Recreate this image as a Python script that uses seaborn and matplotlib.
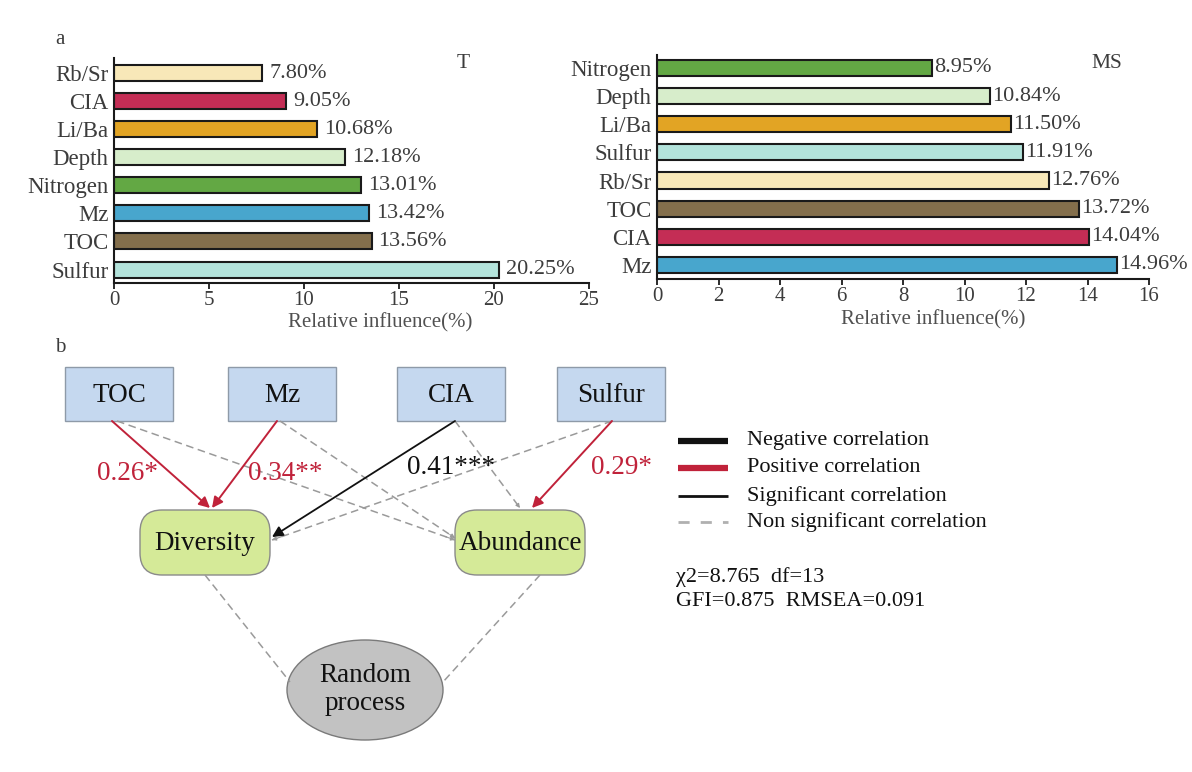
import matplotlib
matplotlib.use("Agg")
import matplotlib.pyplot as plt
import seaborn as sns
import pandas as pd
from matplotlib.patches import FancyBboxPatch, Ellipse, Rectangle
from matplotlib.lines import Line2D

sns.set_style("ticks")
plt.rcParams['font.family'] = ['Liberation Serif', 'DejaVu Serif']

# ---------------- data ----------------
t_factors = ["Rb/Sr", "CIA", "Li/Ba", "Depth", "Nitrogen", "Mz", "TOC", "Sulfur"]
t_values = [7.80, 9.05, 10.68, 12.18, 13.01, 13.42, 13.56, 20.25]
t_ticks = [0, 5, 10, 15, 20, 25]

ms_factors = ["Nitrogen", "Depth", "Li/Ba", "Sulfur", "Rb/Sr", "TOC", "CIA", "Mz"]
ms_values = [8.95, 10.84, 11.50, 11.91, 12.76, 13.72, 14.04, 14.96]
ms_ticks = [0, 2, 4, 6, 8, 10, 12, 14, 16]

factor_colors = {
    "Rb/Sr": "#F8E8B8",
    "CIA": "#C42D55",
    "Li/Ba": "#E2A424",
    "Depth": "#D7EDCB",
    "Nitrogen": "#63A844",
    "Mz": "#48A6CD",
    "TOC": "#846F4C",
    "Sulfur": "#B3E3DB",
}

predictors = ["TOC", "Mz", "CIA", "Sulfur"]
responses = ["Diversity", "Abundance"]
coef_labels = ["0.26*", "0.34**", "0.41***", "0.29*"]
coef_colors = ["#C0223A", "#C0223A", "#111111", "#C0223A"]
legend_labels = ["Negative correlation", "Positive correlation",
                 "Significant correlation", "Non significant correlation"]
fit_lines = ["\u03c72=8.765  df=13", "GFI=0.875  RMSEA=0.091"]

W, H = 1192, 772
TXT = "#3c3c3c"

fig = plt.figure(figsize=(W / 100, H / 100), dpi=100)


def bar_panel(rect, factors, values, ticks, ylim, title, title_xy, label_off,
              xlabel_xy):
    ax = fig.add_axes(rect)
    df = pd.DataFrame({"factor": factors, "value": values})
    sns.barplot(data=df, x="value", y="factor", hue="factor", order=factors,
                hue_order=factors, palette=factor_colors, edgecolor="#1a1a1a",
                linewidth=1.5, width=0.57, legend=False, ax=ax, orient="h",
                saturation=1)
    ax.set_xlim(ticks[0], ticks[-1])
    ax.set_ylim(*ylim)
    ax.set_xticks(ticks)
    ax.set_xticklabels([str(t) for t in ticks])
    ax.set_ylabel("")
    ax.set_xlabel("Relative influence(%)", fontsize=15, color="#505050")
    ax.xaxis.set_label_coords(*xlabel_xy)
    ax.tick_params(axis="x", labelsize=15, colors="#1a1a1a", labelcolor=TXT,
                   length=4, width=1.3, pad=2, direction="out")
    ax.tick_params(axis="y", labelsize=16.5, labelcolor=TXT, length=0, pad=4)
    sns.despine(ax=ax, top=True, right=True)
    for s in ("left", "bottom"):
        ax.spines[s].set_linewidth(1.5)
        ax.spines[s].set_color("#1a1a1a")
    for i, v in enumerate(values):
        ax.annotate(f"{v:.2f}%", xy=(v, i), xytext=(label_off, 0),
                    textcoords="offset points", ha="left", va="center",
                    fontsize=16, color=TXT)
    ax.set_facecolor("none")
    fig.text(title_xy[0] / W, 1 - title_xy[1] / H, title, fontsize=15.5,
             color=TXT, ha="center", va="center")
    return ax


bar_panel([114 / W, 1 - 283 / H, 475 / W, 225 / H], t_factors, t_values,
          t_ticks, (7.48, -0.54), "T", (463, 63), 5, (0.56, -0.135))
bar_panel([657 / W, 1 - 279 / H, 492 / W, 224 / H], ms_factors, ms_values,
          ms_ticks, (7.5, -0.46), "MS", (1107, 63), 1.5, (0.561, -0.14))

fig.text(60 / W, 1 - 40 / H, "a", fontsize=15, color=TXT, ha="center", va="center")
fig.text(60 / W, 1 - 347 / H, "b", fontsize=15, color=TXT, ha="center", va="center")

# ---------------- path diagram ----------------
ax3 = fig.add_axes([0, 0, 1, 1], zorder=-1)
ax3.set_xlim(0, W)
ax3.set_ylim(H, 0)
ax3.axis("off")

box_x = [65, 228, 397, 557]
box_w, box_y, box_h = 108, 367, 54
for x, name in zip(box_x, predictors):
    ax3.add_patch(Rectangle((x, box_y), box_w, box_h, facecolor="#C5D8EF",
                            edgecolor="#8e9aa8", lw=1))
    ax3.text(x + box_w / 2, box_y + box_h / 2 + 1, name, fontsize=19.5,
             ha="center", va="center", color="#111111")

resp_x = [140, 455]
resp_w, resp_y, resp_h = 130, 510, 65
for x, name in zip(resp_x, responses):
    ax3.add_patch(FancyBboxPatch((x, resp_y), resp_w, resp_h,
                                 boxstyle="round,pad=0,rounding_size=22",
                                 facecolor="#D5EA98", edgecolor="#8a8a8a", lw=1))
    ax3.text(x + resp_w / 2, resp_y + resp_h / 2 + 1, name, fontsize=19.5,
             ha="center", va="center", color="#111111")

ax3.add_patch(Ellipse((365, 690), 156, 100, facecolor="#C2C2C2",
                      edgecolor="#7a7a7a", lw=1))
ax3.text(365, 675, "Random", fontsize=19.5, ha="center", va="center", color="#111111")
ax3.text(365, 703, "process", fontsize=19.5, ha="center", va="center", color="#111111")

RED = "#C0223A"


def arrow(p0, p1, color, lw=1.4, ms=16, ls="-", style="-|>"):
    ax3.annotate("", xy=p1, xytext=p0,
                 arrowprops=dict(arrowstyle=style, color=color, lw=lw,
                                 mutation_scale=ms, linestyle=ls,
                                 shrinkA=0, shrinkB=0))


# dashed non-significant paths
dash_col = "#9a9a9a"
for p0, p1 in [((117, 421), (455, 540)), ((280, 421), (455, 538)),
               ((612, 421), (272, 540)), ((455, 421), (520, 508))]:
    ax3.plot([p0[0], p1[0]], [p0[1], p1[1]], color=dash_col, lw=1.1,
             ls=(0, (5, 3)))
    arrow(((p0[0] * 0.03 + p1[0] * 0.97), (p0[1] * 0.03 + p1[1] * 0.97)), p1,
          dash_col, lw=0.8, ms=6)
for p0, p1 in [((205, 575), (290, 682)), ((540, 575), (443, 682))]:
    ax3.plot([p0[0], p1[0]], [p0[1], p1[1]], color=dash_col, lw=1.1,
             ls=(0, (5, 3)))

# significant paths
arrow((112, 421), (210, 508), RED)
arrow((277, 421), (212, 508), RED)
arrow((455, 421), (272, 537), "#111111", lw=1.3)
arrow((612, 421), (532, 508), RED)

coef_xy = [(127, 473), (285, 473), (451, 468), (622, 468)]
for (x, y), lab, c in zip(coef_xy, coef_labels, coef_colors):
    ax3.text(x, y, lab, fontsize=19.5, color=c, ha="center", va="center")

# legend
leg_y = [441, 468, 496, 522]
leg_styles = [dict(color="#111111", lw=4.5, ls="-"),
              dict(color=RED, lw=4.5, ls="-"),
              dict(color="#111111", lw=2, ls="-"),
              dict(color="#b0b0b0", lw=2, ls=(0, (4, 4)))]
for y, lab, st in zip(leg_y, legend_labels, leg_styles):
    ax3.add_line(Line2D([678, 728], [y, y], solid_capstyle="butt", **st))
    ax3.text(747, y, lab, fontsize=16, ha="left", va="center", color="#111111")

for y, lab in zip([577, 602], fit_lines):
    ax3.text(676, y, lab, fontsize=16, ha="left", va="center", color="#111111")

fig.savefig("out.png", dpi=100)
